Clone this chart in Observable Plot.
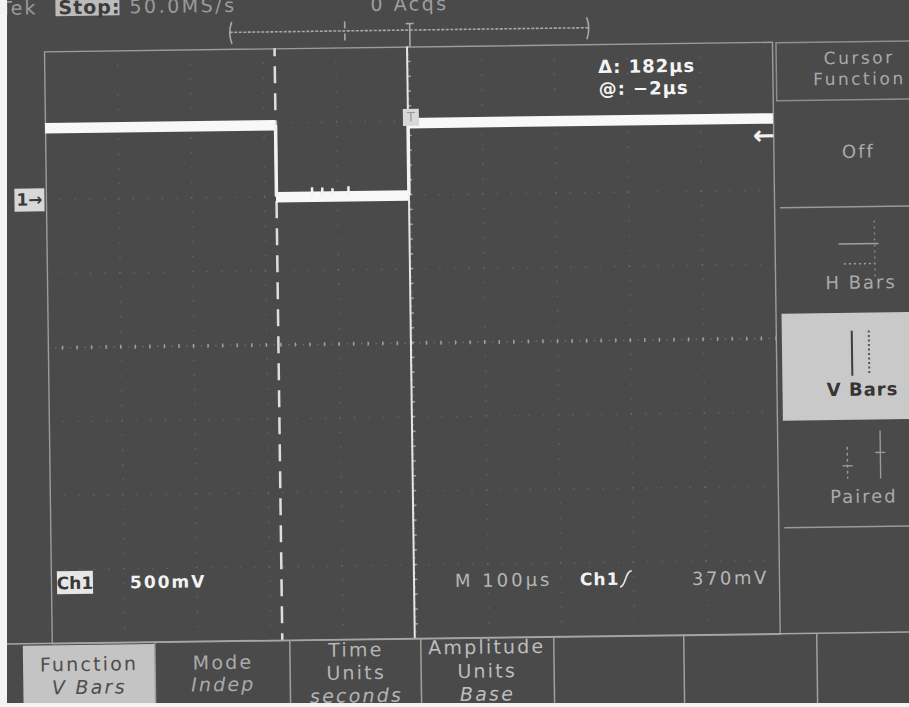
<!DOCTYPE html>
<html>
<head>
<meta charset="utf-8">
<script src="https://cdn.jsdelivr.net/npm/d3@7"></script>
<script src="https://cdn.jsdelivr.net/npm/@observablehq/plot@0.6"></script>
<style>
  html, body { margin:0; padding:0; width:909px; height:707px; overflow:hidden; background:#f3f3f3; }
  #screen { position:absolute; left:7px; top:0; width:902px; height:703px; background:#4a4a4a; overflow:hidden; }
  #rot { position:absolute; left:-7px; top:0; width:909px; height:707px; transform:rotate(-0.75deg); transform-origin:454px 353px; }
  #rot > svg { position:absolute; left:0; top:0; overflow:visible; }
  #deco text { font-family:"DejaVu Sans", sans-serif; }
</style>
</head>
<body>
<div id="screen"><div id="rot"></div></div>
<script>
// ---- data (time in µs, 100 µs/div; amplitude in V, 500 mV/div) ----
const timeDomain = [-500, 500];
const voltDomain = [-3, 1];
const timeDivs = [-400, -300, -200, -100, 100, 200, 300, 400];
const voltDivs = [0.5, 0, -0.5, -1.5, -2, -2.5];
const centerTime = [0];
const centerVolt = [-1];

// waveform: flat segments and the two edges
const segStart = [-500, -184, -2];
const segEnd   = [-184, -2, 500];
const segLevel = [0.483, -0.003, 0.486];
const edgeTime = [-184, -2];
const edgeFrom = [0.483, -0.003];
const edgeTo   = [-0.003, 0.486];
// small glitches on the low level
const glitchTime = [-135, -121, -107, -85];
const glitchTop  = [0.058, 0.055, 0.05, 0.062];

// cursors, trigger and ground reference
const cursorA = [-184];
const cursorB = [-2];
const groundLevel = [0];
const triggerLevel = [0.37];
const triggerTime = [0];
const triggerMarkLevel = 0.525;

const segments = segStart.map((s, i) => ({x1: s, x2: segEnd[i], y: segLevel[i]}));
const edges = edgeTime.map((t, i) => ({x: t, y1: edgeFrom[i], y2: edgeTo[i]}));
const glitches = glitchTime.map((t, i) => ({x: t, y2: glitchTop[i]}));

const boxSymbol = (w, h) => ({ draw(ctx) { ctx.rect(-w / 2, -h / 2, w, h); } });

const chart = Plot.plot({
  width: 909,
  height: 707,
  marginLeft: 48,
  marginRight: 133,
  marginTop: 46,
  marginBottom: 69,
  x: {domain: timeDomain, axis: null},
  y: {domain: voltDomain, axis: null},
  style: {background: "transparent", fontFamily: "DejaVu Sans, sans-serif", overflow: "visible"},
  marks: [
    // graticule: faint dotted division lines
    Plot.ruleX(timeDivs, {stroke: "#a6a6a6", strokeOpacity: 0.28, strokeWidth: 1.4, strokeDasharray: "1.4,13.4", strokeDashoffset: 0.7}),
    Plot.ruleY(voltDivs, {stroke: "#a6a6a6", strokeOpacity: 0.28, strokeWidth: 1.4, strokeDasharray: "1.4,13.16", strokeDashoffset: 0.7}),
    // centre cross with minor ticks
    Plot.ruleY(centerVolt, {stroke: "#b4b4b4", strokeOpacity: 0.4, strokeWidth: 1.2, strokeDasharray: "1.4,5.88"}),
    Plot.ruleY(centerVolt, {stroke: "#bdbdbd", strokeOpacity: 0.7, strokeWidth: 4, strokeDasharray: "1.5,13.06", strokeDashoffset: 0.75}),
    Plot.ruleX(centerTime, {stroke: "#b4b4b4", strokeOpacity: 0.4, strokeWidth: 1.2, strokeDasharray: "1.4,6"}),
    Plot.ruleX(centerTime, {stroke: "#bdbdbd", strokeOpacity: 0.7, strokeWidth: 4, strokeDasharray: "1.5,13.3", strokeDashoffset: 0.75}),
    Plot.frame({stroke: "#9c9c9c", strokeWidth: 1.4}),
    // cursors
    Plot.ruleX(cursorA, {stroke: "#dedede", strokeWidth: 2.5, strokeDasharray: "17,10", strokeDashoffset: 9}),
    Plot.ruleX(cursorB, {stroke: "#e6e6e6", strokeWidth: 2}),
    // waveform
    Plot.ruleY(segments, {x1: "x1", x2: "x2", y: "y", stroke: "#f8f8f8", strokeWidth: 10.5}),
    Plot.ruleX(edges, {x: "x", y1: "y1", y2: "y2", stroke: "#f2f2f2", strokeWidth: 3.5}),
    Plot.ruleX(glitches, {x: "x", y1: 0, y2: "y2", stroke: "#f2f2f2", strokeWidth: 2.5}),
    // trigger point marker on the trace
    Plot.dot(triggerTime, {x: d => d, y: () => triggerMarkLevel, dx: 1.5, symbol: boxSymbol(16, 17), fill: "#d8d8d8", stroke: null}),
    Plot.text(triggerTime, {x: d => d, y: () => triggerMarkLevel, dx: 1.5, text: () => "T", fill: "#9a9a9a", fontSize: 13}),
    // trigger level arrow (right edge)
    Plot.text(triggerLevel, {x: () => timeDomain[1], y: d => d, dx: -10, text: () => "←", fill: "#f2f2f2", fontSize: 26, fontWeight: "bold"}),
    // channel 1 ground marker (left edge)
    Plot.dot(groundLevel, {x: () => timeDomain[0], y: d => d, dx: -17, symbol: boxSymbol(30, 23), fill: "#d8d8d8", stroke: null}),
    Plot.text(groundLevel, {x: () => timeDomain[0], y: d => d, dx: -17, text: () => "1→", fill: "#3a3a3a", fontSize: 17, fontWeight: "bold"})
  ]
});

const rot = document.getElementById("rot");
rot.appendChild(chart);

const dim = "#a9a9a9";
const deco = `
<svg id="deco" xmlns="http://www.w3.org/2000/svg" width="909" height="707">
  <!-- top status line (cut off by the screen edge) -->
  <text x="42" y="9" fill="#9a9a9a" font-size="19" text-anchor="end" letter-spacing="2">Tek</text>
  <rect x="60" y="-16" width="64" height="27" fill="#bcbcbc"/>
  <text x="63" y="9" fill="#3c3c3c" font-size="19" font-weight="bold" letter-spacing="1">Stop:</text>
  <text x="134" y="9" fill="#9a9a9a" font-size="19" letter-spacing="2.5">50.0MS/s</text>
  <text x="375" y="10" fill="#9e9e9e" font-size="19" letter-spacing="2.5">0 Acqs</text>
  <!-- record view bar -->
  <g stroke="#a8a8a8" fill="none" stroke-width="1.6">
    <line x1="234" y1="29.5" x2="593" y2="29.5" stroke-dasharray="3,1.5"/>
    <path d="M236,19 Q232,30 236,41"/>
    <path d="M591,19 Q595,30 591,41"/>
    <line x1="349" y1="20" x2="349" y2="42" stroke-dasharray="7,5"/>
    <line x1="414" y1="23" x2="414" y2="46"/>
    <line x1="410" y1="23" x2="418" y2="23"/>
  </g>
  <!-- cursor readout -->
  <text x="602" y="75" fill="#f4f4f4" font-size="18" font-weight="bold" letter-spacing="1">Δ: 182µs</text>
  <text x="602" y="97" fill="#f4f4f4" font-size="18" font-weight="bold" letter-spacing="1">@: −2µs</text>

  <!-- right side menu -->
  <rect x="780" y="47" width="140" height="58" fill="none" stroke="#8e8e8e" stroke-width="1.5"/>
  <g font-size="17" letter-spacing="2.5" text-anchor="middle" fill="${dim}">
    <text x="863" y="69">Cursor</text>
    <text x="863" y="90">Function</text>
  </g>
  <g font-size="18" letter-spacing="2" text-anchor="middle" fill="${dim}">
    <text x="861" y="163">Off</text>
    <text x="862" y="294">H Bars</text>
    <text x="862" y="508">Paired</text>
  </g>
  <g stroke="#9a9a9a" stroke-width="1.4">
    <line x1="782" y1="212" x2="915" y2="212"/>
    <line x1="782" y1="532" x2="915" y2="532"/>
  </g>
  <!-- H Bars icon -->
  <g stroke="#a0a0a0" stroke-width="1.5" fill="none">
    <line x1="840" y1="249" x2="880" y2="249"/>
    <line x1="845" y1="269" x2="876" y2="269" stroke-dasharray="2,3"/>
    <line x1="876" y1="226" x2="876" y2="282" stroke-dasharray="2,4" stroke-opacity="0.7"/>
  </g>
  <!-- V Bars (selected) -->
  <rect x="782" y="318" width="135" height="107" fill="#c9c9c9"/>
  <line x1="852" y1="336" x2="852" y2="381" stroke="#3e3e3e" stroke-width="2"/>
  <line x1="869" y1="336" x2="869" y2="381" stroke="#555" stroke-width="2" stroke-dasharray="2,2.5"/>
  <text x="862" y="401" fill="#353535" font-size="18" font-weight="bold" letter-spacing="1" text-anchor="middle">V Bars</text>
  <!-- Paired icon -->
  <g stroke="#9a9a9a" stroke-width="1.4" fill="none">
    <line x1="846" y1="452" x2="846" y2="484" stroke-dasharray="3,3"/>
    <line x1="841" y1="471" x2="851" y2="471"/>
    <line x1="879" y1="436" x2="879" y2="484"/>
    <line x1="874" y1="458" x2="884" y2="458"/>
  </g>

  <!-- bottom readouts -->
  <rect x="54" y="566" width="36" height="23" fill="#e6e6e6"/>
  <text x="72" y="584" text-anchor="middle" fill="#383838" font-size="17" font-weight="bold">Ch1</text>
  <text x="127" y="584" fill="#f2f2f2" font-size="17" font-weight="bold" letter-spacing="2">500mV</text>
  <text x="452" y="587" fill="#b6b6b6" font-size="18" letter-spacing="3">M 100µs</text>
  <text x="577" y="587" fill="#f2f2f2" font-size="17" font-weight="bold" letter-spacing="1">Ch1</text>
  <path d="M617,589 C623,589 622,573 629,573" stroke="#e6e6e6" stroke-width="1.6" fill="none"/>
  <text x="689" y="588" fill="#b6b6b6" font-size="18" letter-spacing="2.5">370mV</text>

  <!-- bottom menu -->
  <rect x="19" y="640" width="132" height="80" fill="#c4c4c4"/>
  <line x1="0" y1="638" x2="915" y2="638" stroke="#a6a6a6" stroke-width="1.5"/>
  <g stroke="#a0a0a0" stroke-width="1.5">
    <line x1="151" y1="638" x2="151" y2="720"/>
    <line x1="286" y1="638" x2="286" y2="720"/>
    <line x1="417" y1="638" x2="417" y2="720"/>
    <line x1="550" y1="638" x2="550" y2="720"/>
    <line x1="680" y1="638" x2="680" y2="720"/>
    <line x1="813" y1="638" x2="813" y2="720"/>
  </g>
  <g font-size="19" letter-spacing="2.2" text-anchor="middle">
    <text x="85" y="666" fill="#4e4e4e">Function</text>
    <text x="85" y="689" fill="#4e4e4e" font-style="italic">V Bars</text>
    <text x="219" y="666" fill="#aaaaaa">Mode</text>
    <text x="219" y="688" fill="#aaaaaa" font-style="italic">Indep</text>
    <text x="352" y="655" fill="#b4b4b4">Time</text>
    <text x="352" y="678" fill="#b4b4b4">Units</text>
    <text x="352" y="701" fill="#b4b4b4" font-style="italic">seconds</text>
    <text x="483" y="654" fill="#bdbdbd">Amplitude</text>
    <text x="483" y="678" fill="#bdbdbd">Units</text>
    <text x="483" y="701" fill="#bdbdbd" font-style="italic">Base</text>
  </g>
</svg>`;
rot.insertAdjacentHTML("beforeend", deco);
</script>
</body>
</html>
